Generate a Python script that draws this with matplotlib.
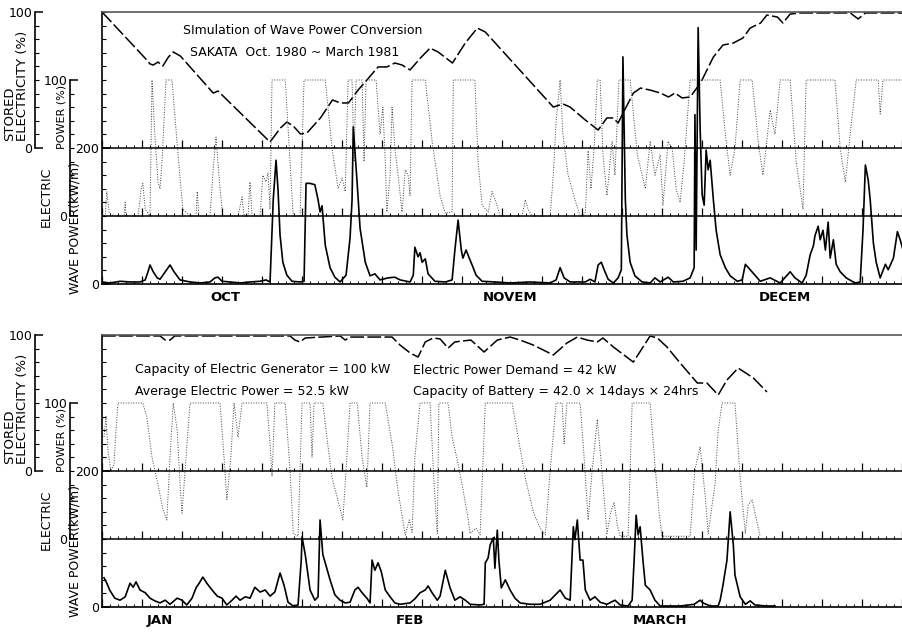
import numpy as np
import matplotlib.pyplot as plt

# Sakata wave power simulation, Oct 1980 - March 1981.
# Each series is a list of (day, value); stored and electric in %, wave in kW/m.

oct_dec_stored = [(0, 100), (5.6, 64.7), (6.0, 61.8), (6.4, 61.0), (7.0, 63.2), (7.6, 60.3),
                  (8.3, 66.9), (8.9, 70.6), (9.8, 67.6), (13.9, 40.4), (14.5, 41.9), (15.0, 39.0),
                  (21.0, 4.4), (22.3, 14.7), (23.1, 19.1), (23.9, 16.2), (24.8, 10.3), (25.6, 11.0),
                  (27.3, 22.1), (28.8, 35.3), (29.8, 33.1), (30.8, 33.1), (32.0, 42.6), (33.1, 50.0),
                  (34.5, 59.6), (35.6, 59.6), (36.6, 62.5), (37.5, 61.0), (38.5, 57.4), (39.8, 66.2),
                  (41.0, 73.5), (42.0, 70.6), (43.8, 62.5), (45.4, 77.2), (46.9, 88.2), (47.9, 85.3),
                  (56.4, 30.1), (57.6, 32.4), (58.5, 30.1), (60.4, 20.6), (62.0, 13.2), (63.1, 22.1),
                  (63.9, 22.1), (64.5, 18.4), (65.0, 24.3), (66.4, 40.4), (67.3, 44.1), (68.5, 42.6),
                  (69.8, 40.4), (70.8, 37.5), (71.6, 40.4), (72.5, 36.8), (73.5, 37.5), (74.8, 47.8),
                  (76.4, 66.9), (77.6, 75.7), (78.9, 77.2), (80.1, 80.9), (81.0, 88.2), (82.3, 91.9),
                  (83.1, 97.8), (84.4, 96.3), (85.1, 91.9), (86.0, 98.5), (87.3, 99.3), (93.5, 99.3),
                  (94.5, 94.9), (95.4, 99.3), (100.1, 99.3)]

oct_dec_electric = [(0, 0), (0.4, 0), (0.6, 18), (0.9, 2), (1.6, 0), (2.75, 0), (2.9, 10), (3.0, 0),
                    (4.5, 0), (4.9, 20), (5.1, 24), (5.4, 5), (6.0, 0), (6.25, 100), (6.6, 60), (7.0, 25),
                    (7.25, 20), (7.5, 40), (8.0, 100), (8.75, 100), (9.5, 45), (10.1, 5), (11.0, 0),
                    (11.75, 0), (11.9, 18), (12.1, 0), (13.5, 0), (13.9, 35), (14.25, 58), (14.75, 20),
                    (15.1, 0), (17.0, 0), (17.5, 14), (17.75, 0), (18.25, 0), (18.5, 25), (18.75, 0),
                    (19.75, 0), (20.1, 30), (20.5, 25), (20.75, 32), (21.0, 5), (21.25, 100), (22.9, 100),
                    (23.5, 40), (23.9, 0), (24.75, 0), (25.25, 100), (27.9, 100), (28.75, 50), (29.5, 20),
                    (30.0, 28), (30.4, 18), (30.75, 100), (31.25, 100), (31.5, 40), (31.75, 100),
                    (32.5, 100), (32.75, 40), (33.0, 100), (34.25, 100), (34.75, 60), (35.1, 80),
                    (35.4, 40), (35.6, 3), (36.0, 30), (36.25, 80), (36.6, 50), (37.0, 30), (37.5, 3),
                    (37.9, 34), (38.25, 30), (38.5, 15), (38.75, 100), (40.4, 100), (41.25, 55),
                    (42.25, 15), (42.9, 2), (43.75, 3), (43.9, 100), (46.6, 100), (47.0, 40), (47.5, 8),
                    (48.25, 3), (48.75, 18), (49.25, 10), (49.75, 0), (52.5, 0), (52.9, 12), (53.25, 5),
                    (53.75, 0), (56.0, 0), (56.4, 30), (56.75, 70), (57.25, 100), (57.6, 60), (58.25, 30),
                    (59.1, 12), (59.75, 0), (60.4, 2), (60.75, 48), (61.1, 20), (61.5, 50), (61.9, 100),
                    (62.25, 100), (62.6, 45), (63.1, 15), (63.75, 55), (64.1, 30), (64.6, 100), (66.0, 100),
                    (66.9, 45), (67.9, 20), (68.5, 55), (69.1, 30), (69.75, 45), (70.1, 8), (70.75, 55),
                    (71.25, 50), (71.75, 20), (72.25, 10), (72.75, 40), (73.5, 100), (77.25, 100),
                    (77.9, 60), (78.5, 30), (79.1, 50), (79.75, 100), (81.25, 100), (82.0, 55), (82.6, 30),
                    (83.5, 78), (84.1, 60), (84.75, 100), (86.0, 100), (86.75, 40), (87.6, 5), (88.0, 100),
                    (91.6, 100), (92.25, 50), (92.9, 25), (93.5, 60), (94.25, 100), (97.0, 100),
                    (97.25, 75), (97.6, 100), (100.1, 100)]

oct_dec_wave = [(0, 3), (1.0, 1.5), (2.25, 4), (3.5, 3), (4.75, 3), (5.4, 6), (5.75, 18), (6.0, 28),
                (6.4, 18), (6.9, 9), (7.25, 7), (7.9, 18), (8.5, 28), (9.0, 18), (9.75, 6), (11.0, 3),
                (12.25, 1.5), (13.5, 3), (14.1, 9), (14.5, 10), (15.0, 4), (16.0, 3), (17.25, 1.5),
                (18.5, 3), (19.75, 4), (20.5, 6), (21.0, 3), (21.4, 124), (21.75, 182), (22.0, 138),
                (22.25, 72), (22.6, 32), (23.1, 13), (23.75, 4), (24.75, 3), (25.25, 4), (25.5, 148),
                (26.0, 148), (26.6, 146), (27.0, 124), (27.25, 106), (27.5, 115), (27.9, 57), (28.5, 24),
                (29.1, 10), (29.75, 3), (30.5, 13), (31.0, 68), (31.25, 124), (31.4, 231), (31.6, 197),
                (31.9, 146), (32.25, 82), (32.9, 32), (33.5, 12), (34.1, 15), (34.75, 6), (35.75, 9),
                (36.6, 10), (37.25, 6), (38.5, 3), (38.9, 13), (39.1, 54), (39.5, 40), (39.75, 46),
                (40.0, 32), (40.4, 37), (40.75, 15), (41.6, 4), (42.9, 3), (43.75, 6), (44.1, 50),
                (44.5, 94), (44.9, 50), (45.1, 38), (45.5, 50), (45.9, 38), (46.25, 28), (46.75, 13),
                (47.5, 4), (49.1, 3), (51.0, 1.5), (53.5, 3), (56.0, 1.5), (56.75, 6), (57.25, 24),
                (57.75, 9), (58.5, 3), (60.4, 3), (61.0, 7), (61.6, 3), (62.0, 28), (62.4, 32),
                (62.75, 21), (63.25, 7), (63.9, 1.5), (64.5, 9), (64.9, 21), (65.1, 334), (65.4, 124),
                (65.6, 72), (66.0, 32), (66.6, 12), (67.5, 3), (68.5, 1.5), (69.1, 9), (69.75, 3),
                (70.75, 10), (71.4, 3), (72.6, 4), (73.5, 9), (74.0, 24), (74.1, 249), (74.25, 50),
                (74.5, 377), (74.75, 227), (75.0, 131), (75.25, 116), (75.5, 197), (75.75, 168),
                (76.0, 182), (76.4, 124), (76.75, 79), (77.25, 43), (77.9, 24), (78.5, 12), (79.4, 4),
                (80.0, 6), (80.4, 29), (81.0, 21), (81.6, 13), (82.25, 4), (83.5, 9), (84.75, 1.5),
                (86.0, 18), (86.6, 9), (87.5, 1.5), (88.0, 13), (88.5, 43), (88.9, 56), (89.1, 71),
                (89.5, 85), (89.75, 65), (90.1, 79), (90.4, 50), (90.75, 91), (91.0, 38), (91.4, 65),
                (91.75, 29), (92.25, 18), (93.0, 9), (94.1, 1.5), (94.75, 3), (95.1, 79), (95.4, 175),
                (95.75, 153), (96.0, 124), (96.4, 60), (96.75, 32), (97.25, 9), (97.9, 29), (98.25, 21),
                (98.9, 38), (99.4, 77), (99.75, 65), (100.1, 50)]

jan_mar_stored = [(0, 99.3), (7.25, 99.3), (7.9, 96.3), (8.5, 96.3), (9.1, 99.3), (23.5, 99.3),
                  (24.1, 96.3), (24.75, 94.9), (25.4, 97.8), (29.75, 99.3), (30.4, 96.3), (31.0, 98.5),
                  (36.25, 98.5), (37.25, 92.6), (38.5, 86.8), (39.5, 83.8), (40.4, 94.9), (41.4, 97.8),
                  (42.25, 97.1), (43.25, 90.4), (44.1, 94.9), (46.1, 96.3), (47.75, 87.5), (49.4, 96.3),
                  (51.0, 98.5), (52.25, 96.3), (53.9, 92.6), (56.4, 85.3), (58.1, 94.1), (59.4, 98.5),
                  (60.6, 96.3), (61.9, 94.9), (62.6, 97.8), (63.9, 91.2), (66.4, 80.1), (68.5, 99.3),
                  (69.4, 97.8), (70.6, 91.2), (72.25, 79.4), (74.4, 64.7), (75.6, 64.7), (77.0, 55.9),
                  (78.1, 66.9), (79.5, 75.7), (81.4, 68.4), (83.1, 58.1)]

jan_mar_electric = [(0.25, 75), (0.5, 90), (0.75, 65), (1.1, 50), (1.5, 55), (1.75, 80), (2.0, 100),
                    (5.1, 100), (5.6, 90), (6.25, 60), (7.0, 40), (7.6, 22), (8.1, 14), (8.5, 60),
                    (8.9, 100), (9.4, 80), (9.75, 40), (10.0, 19), (10.5, 60), (11.0, 100), (14.75, 100),
                    (15.25, 60), (15.6, 29), (16.1, 60), (16.5, 100), (17.0, 75), (17.5, 100), (20.6, 100),
                    (21.0, 70), (21.25, 46), (21.6, 100), (22.9, 100), (23.5, 50), (23.9, 4), (24.5, 2),
                    (25.0, 100), (26.0, 100), (26.25, 60), (26.5, 100), (27.6, 100), (28.1, 75),
                    (28.75, 45), (29.5, 28), (30.1, 14), (30.6, 60), (31.0, 100), (31.9, 100), (32.5, 60),
                    (33.1, 38), (33.5, 100), (35.4, 100), (36.25, 70), (37.0, 35), (37.9, 3), (38.4, 14),
                    (38.75, 5), (39.1, 60), (39.75, 100), (41.0, 100), (41.5, 40), (41.9, 4), (42.1, 100),
                    (43.25, 100), (43.75, 75), (44.4, 58), (45.0, 40), (45.75, 15), (46.0, 4), (46.75, 8),
                    (47.25, 3), (47.9, 100), (51.25, 100), (52.0, 75), (52.9, 45), (53.9, 20), (54.75, 8),
                    (55.4, 3), (56.0, 50), (56.75, 100), (57.5, 100), (57.75, 70), (58.1, 100), (59.75, 100),
                    (60.25, 60), (60.75, 14), (61.25, 50), (61.9, 88), (62.25, 65), (62.75, 30), (63.1, 4),
                    (63.6, 20), (64.0, 27), (64.4, 10), (64.75, 2), (65.75, 2), (66.25, 100), (68.5, 100),
                    (69.1, 55), (69.6, 20), (70.0, 2), (73.5, 2), (74.1, 51), (74.75, 68), (75.4, 30),
                    (75.75, 4), (76.6, 40), (77.0, 80), (77.5, 100), (79.1, 100), (79.75, 45), (80.4, 4),
                    (80.75, 25), (81.25, 29), (81.75, 15), (82.25, 2)]

jan_mar_wave = [(0.25, 43), (0.6, 35), (1.0, 24), (1.6, 13), (2.25, 10), (2.9, 15), (3.5, 35), (3.9, 29),
                (4.25, 37), (4.75, 25), (5.4, 21), (6.0, 13), (6.6, 9), (7.25, 6), (7.9, 10), (8.5, 4),
                (9.4, 13), (10.0, 10), (10.6, 3), (11.25, 13), (11.75, 28), (12.25, 37), (12.6, 44),
                (13.1, 35), (13.75, 25), (14.4, 16), (15.0, 13), (15.6, 3), (16.25, 10), (16.75, 16),
                (17.25, 10), (17.9, 15), (18.5, 13), (19.1, 29), (19.75, 22), (20.4, 25), (21.0, 16),
                (21.6, 22), (22.25, 50), (22.75, 32), (23.25, 7), (23.9, 1.5), (24.5, 3), (24.9, 69),
                (25.0, 103), (25.4, 77), (26.0, 25), (26.6, 10), (27.0, 15), (27.25, 128), (27.6, 77),
                (28.5, 40), (29.1, 18), (29.75, 10), (30.4, 6), (31.0, 7), (31.6, 25), (32.0, 29),
                (32.5, 21), (33.1, 13), (33.5, 6), (33.75, 69), (34.1, 54), (34.5, 65), (34.9, 52),
                (35.4, 25), (36.0, 15), (36.6, 6), (37.25, 4), (38.5, 6), (39.1, 12), (39.75, 21),
                (40.4, 25), (40.75, 31), (41.25, 21), (41.9, 10), (42.25, 16), (42.9, 54), (43.5, 28),
                (44.1, 10), (44.75, 15), (45.4, 10), (46.0, 4), (47.25, 3), (47.75, 4), (47.9, 65),
                (48.25, 72), (48.5, 91), (48.9, 102), (49.1, 57), (49.4, 113), (49.6, 69), (49.9, 28),
                (50.4, 40), (51.0, 25), (51.6, 13), (52.25, 6), (53.5, 4), (54.75, 4), (56.0, 10),
                (56.5, 16), (57.25, 25), (57.9, 13), (58.5, 10), (58.9, 118), (59.1, 99), (59.4, 128),
                (59.75, 69), (60.1, 69), (60.4, 25), (61.0, 10), (61.6, 15), (62.25, 7), (63.1, 4),
                (64.1, 10), (64.75, 3), (65.75, 1.5), (66.25, 10), (66.5, 69), (66.75, 135), (67.0, 106),
                (67.25, 118), (67.6, 69), (67.9, 32), (68.5, 25), (69.1, 10), (69.75, 1.5), (72.25, 1.5),
                (74.0, 4), (74.75, 10), (75.1, 6), (76.0, 1.5), (77.0, 1.5), (77.25, 10), (77.6, 32),
                (78.1, 69), (78.5, 140), (78.9, 91), (79.1, 47), (79.75, 15), (80.4, 4), (81.0, 9),
                (81.6, 3), (82.9, 1.5), (84.1, 1.5)]

oct_dec_months = ['OCT', 'NOVEM', 'DECEM']
oct_dec_month_days = [15.4, 51.0, 85.4]
jan_mar_months = ['JAN', 'FEB', 'MARCH']
jan_mar_month_days = [7.25, 38.5, 69.75]

W, H = 903, 633
FONT = 'DejaVu Sans'
fig = plt.figure(figsize=(W / 100, H / 100), dpi=100)


def box(left, top, right, bottom):
    return [left / W, 1 - bottom / H, (right - left) / W, (bottom - top) / H]


def pt(x, y):
    return x / W, 1 - y / H


def split(pairs):
    d, v = zip(*pairs)
    return np.array(d), np.array(v, dtype=float)


def side_scale(x, bottom):
    # a bare spine carrying one of the 0-100 % scales
    sa = fig.add_axes(box(x, bottom - 136, x + 20, bottom))
    sa.set_ylim(0, 100)
    sa.set_xlim(0, 1)
    sa.set_xticks([])
    for s in ('top', 'right', 'bottom'):
        sa.spines[s].set_visible(False)
    sa.spines['left'].set_linewidth(1.2)
    sa.spines['left'].set_color('black')
    sa.patch.set_visible(False)
    sa.set_yticks([0, 100], ['0', '100'])
    sa.set_yticks(np.arange(0, 101, 10), minor=True)
    sa.tick_params(axis='y', which='major', direction='in', length=6, width=1.1, pad=2,
                   labelsize=9)
    sa.tick_params(axis='y', which='minor', direction='in', length=3, width=0.8)


def panel(top, stored, electric, wave, months, month_days):
    ax = fig.add_axes(box(102, top, 903, top + 272))
    sd, sv = split(stored)
    ed, ev = split(electric)
    wd, wv = split(wave)
    # three quantities share one frame: wave 0-200 in the bottom half,
    # electric 0-100 % in the middle, stored 0-100 % in the top half
    ax.plot(sd, 1.0 + sv / 100, color='black', lw=1.1, ls=(0, (9, 2.2)))
    ax.plot(ed, 0.5 + ev / 100, color='#404040', lw=0.7, ls=(0, (1, 1.6)))
    ax.plot(wd, wv / 200, color='black', lw=1.2)
    ax.set_xlim(0, 100.1)
    ax.set_ylim(0, 2)

    days = np.arange(0, 101)
    for base in (0.0, 0.5, 1.0):
        if base > 0:
            ax.axhline(base, color='black', lw=1.1)
        ax.vlines(days, base, base + 0.025, color='black', lw=0.7)
        ax.vlines(days[::5], base, base + 0.06, color='black', lw=0.9)

    ax.spines['right'].set_visible(False)
    ax.spines['top'].set_color('#555555')
    ax.spines['top'].set_linewidth(1.2)
    ax.spines['left'].set_linewidth(1.2)
    ax.spines['bottom'].set_linewidth(1.2)

    ax.set_xticks(month_days, months)
    ax.tick_params(axis='x', length=0, pad=5, labelsize=9.5)
    for lab in ax.get_xticklabels():
        lab.set_fontweight('bold')
    ax.set_yticks([0, 1], ['0', '200'])
    ax.set_yticks(np.arange(0, 2.01, 0.1), minor=True)
    ax.tick_params(axis='y', which='major', direction='in', length=6, width=1.1, pad=2,
                   labelsize=9)
    ax.tick_params(axis='y', which='minor', direction='in', length=3, width=0.8)

    side_scale(35, top + 136)
    side_scale(70, top + 204)

    off = top - 12
    lab = dict(rotation=90, ha='center', va='bottom', family=FONT)
    fig.text(*pt(16, 141 + off), 'STORED\nELECTRICITY (%)', fontsize=9.5,
             multialignment='left', linespacing=1.0, **lab)
    fig.text(*pt(46, 227 + off), 'ELECTRIC', fontsize=9, **lab)
    fig.text(*pt(61, 149 + off), 'POWER (%)', fontsize=8, **lab)
    fig.text(*pt(75, 294 + off), 'WAVE POWER(kW/m)', fontsize=9, **lab)
    return ax


panel(12, oct_dec_stored, oct_dec_electric, oct_dec_wave, oct_dec_months, oct_dec_month_days)
panel(335, jan_mar_stored, jan_mar_electric, jan_mar_wave, jan_mar_months, jan_mar_month_days)

note = dict(fontsize=9, family=FONT, va='center', ha='left')
fig.text(*pt(183, 31), 'SImulation of Wave Power COnversion', **note)
fig.text(*pt(190, 53), 'SAKATA  Oct. 1980 ~ March 1981', **note)
fig.text(*pt(135, 370), 'Capacity of Electric Generator = 100 kW', **note)
fig.text(*pt(135, 391), 'Average Electric Power = 52.5 kW', **note)
fig.text(*pt(413, 370), 'Electric Power Demand = 42 kW', **note)
fig.text(*pt(413, 391), 'Capacity of Battery = 42.0 × 14days × 24hrs', **note)

fig.savefig('out.png', dpi=100)
